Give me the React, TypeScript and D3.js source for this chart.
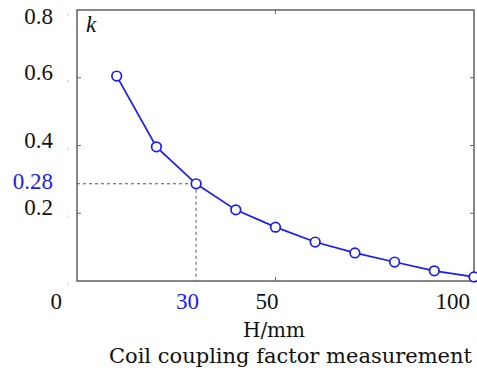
import React from "react";
import * as d3 from "d3";

const heights = [10, 20, 30, 40, 50, 60, 70, 80, 90, 100];
const kValues = [0.605, 0.396, 0.287, 0.21, 0.159, 0.115, 0.083, 0.056, 0.03, 0.012];
const xTickLabels = [0, 30, 50, 100];
const xTickMarks = [50];
const yTickLabels = [0.2, 0.4, 0.6, 0.8];
const yTickMarks = [0.2, 0.4, 0.6];
const markX = 30;
const markY = 0.287;
const markYLabel = "0.28";
const markXLabel = "30";

const W = 477;
const H = 380;
const left = 77, right = 474, top = 10, bottom = 281;
const BLUE = "#1a1aff";
const AXIS = "#6a6a6a";
const FONT = "'Liberation Serif', 'DejaVu Serif', serif";
const FONT2 = "'DejaVu Serif', serif";

export default function App() {
  const x = d3.scaleLinear().domain([0, 100]).range([left, right]);
  const y = d3.scaleLinear().domain([0, 0.8]).range([bottom, top]);
  const pts = heights.map((h, i) => [x(h), y(kValues[i])] as [number, number]);
  const line = d3.line()(pts) || "";

  const xLabelX = (v: number) => (v === 0 ? x(v) - 15 : Math.min(x(v) + 3, 470));

  return (
    <svg width={W} height={H} style={{ position: "absolute", left: 0, top: 0 }}>
      <rect x={0} y={0} width={W} height={H} fill="#fff" />
      {[0, 0.2, 0.4, 0.6, 0.8].map((v) => (
        <line key={"f" + v} x1={68} x2={68} y1={Math.max(y(v) + 2, 13)} y2={Math.max(y(v) + 5, 16)} stroke="#d0d0d0" strokeWidth={1} />
      ))}
      <line x1={left} x2={x(markX)} y1={y(markY)} y2={y(markY)} stroke="#555" strokeWidth={1} strokeDasharray="3,3" />
      <line x1={x(markX)} x2={x(markX)} y1={y(markY)} y2={bottom} stroke="#555" strokeWidth={1} strokeDasharray="3,3" />
      {yTickMarks.map((v) => (
        <g key={"yt" + v}>
          <line x1={left} x2={left + 4} y1={y(v)} y2={y(v)} stroke={AXIS} strokeWidth={1} />
          <line x1={right} x2={right - 4} y1={y(v)} y2={y(v)} stroke={AXIS} strokeWidth={1} />
        </g>
      ))}
      {xTickMarks.map((v) => (
        <g key={"xt" + v}>
          <line x1={x(v)} x2={x(v)} y1={bottom} y2={bottom - 4} stroke={AXIS} strokeWidth={1} />
          <line x1={x(v)} x2={x(v)} y1={top} y2={top + 4} stroke={AXIS} strokeWidth={1} />
        </g>
      ))}
      <rect x={left} y={top} width={right - left} height={bottom - top} fill="none" stroke={AXIS} strokeWidth={1.6} />
      <path d={line} fill="none" stroke={BLUE} strokeWidth={1.7} />
      {pts.map(([px, py], i) => (
        <circle key={i} cx={px} cy={py} r={4.8} fill="#fff" stroke={BLUE} strokeWidth={1.7} />
      ))}
      {yTickLabels.map((v) => (
        <text key={"yl" + v} x={53} y={Math.max(y(v) + 2, 24)} textAnchor="end" fontFamily={FONT} fontSize={23} fill="#111">
          {v.toFixed(1)}
        </text>
      ))}
      <text x={53} y={y(markY) + 5} textAnchor="end" fontFamily={FONT} fontSize={23} fill={BLUE}>
        {markYLabel}
      </text>
      {xTickLabels.map((v) => (
        <text key={"xl" + v} x={xLabelX(v)} y={309} textAnchor="end" fontFamily={FONT} fontSize={23}
          fill={String(v) === markXLabel ? BLUE : "#111"}>
          {v}
        </text>
      ))}
      <text x={274} y={337} textAnchor="middle" fontFamily={FONT2} fontSize={20} fill="#111">H/mm</text>
      <text x={472} y={363} textAnchor="end" fontFamily={FONT2} fontSize={21} fill="#111">Coil coupling factor measurement</text>
      <text x={86} y={32} fontFamily={FONT} fontSize={23} fontStyle="italic" fill="#111">k</text>
    </svg>
  );
}
